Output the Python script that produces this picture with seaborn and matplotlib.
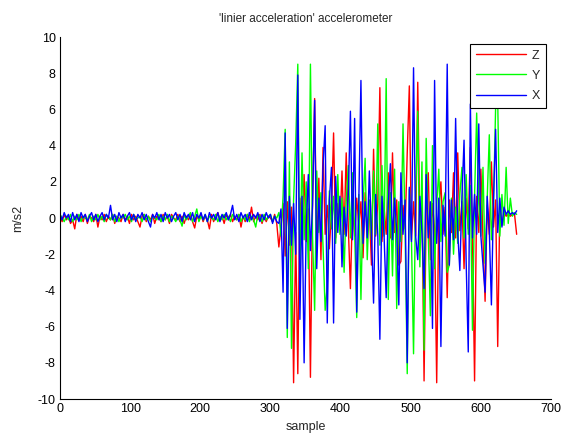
import numpy as np
import pandas as pd
import matplotlib
matplotlib.use("Agg")
import matplotlib.pyplot as plt
import seaborn as sns

# sample index of every reading (one reading kept every 3 samples)
samples = np.arange(0, 652, 3)

# --- Z axis (red) ---
z_rest = [0.1, -0.2, 0.2, -0.1, 0.1, -0.3, -0.1, -0.6, 0.2, -0.1,
          0.1, -0.2, 0.2, -0.3, 0.1, 0.0, -0.2, 0.2, -0.5, 0.1,
          -0.1, 0.2, -0.2, 0.1, -0.1, 0.2, -0.3, 0.1, 0.0, -0.2,
          0.2, -0.1, 0.1, -0.3, 0.2, -0.1, 0.1, -0.2, -0.5, 0.1,
          0.2, -0.2, 0.1, -0.1, 0.2, -0.3, 0.1, 0.0, -0.2, 0.2,
          -0.1, 0.1, -0.3, 0.2, 0.0, -0.1, 0.2, -0.2, 0.1, -0.3,
          0.1, -0.1, 0.2, -0.2, -0.55, 0.1, -0.1, 0.2, -0.2, 0.1,
          -0.1, -0.6, 0.2, -0.2, 0.1, 0.3, -0.1, 0.1, -0.3, 0.2,
          -0.1, 0.2, -0.2, 0.1, -0.1, 0.2, -0.5, 0.1, -0.2, 0.2,
          -0.1, 0.6, -0.2, 0.1, -0.1, 0.2, -0.3, 0.1, -0.2, 0.1,
          0.0, -0.2, 0.2, -0.3]
z_move = [-1.6, -0.5, 0.8, -2.1, 0.9, -1.5, 0.6, -9.1, -0.8, -8.6,
          1.1, -0.6, 2.4, -1.3, 0.5, -8.8, 0.9, 6.6, -1.7, 2.2,
          -2.3, 3.9, -0.9, 0.7, -1.7, 0.4, 4.7, -1.1, 0.8, -0.7,
          2.6, -0.9, 3.6, -0.5, -3.9, 0.6, -1.0, 1.1, -0.4, 0.9,
          -2.2, 1.4, -0.8, 0.5, -2.6, 3.8, -1.0, 0.8, 7.2, -1.3,
          0.6, -0.9, 2.5, -1.1, 3.6, -0.8, 1.0, -2.6, -2.4, 0.7,
          -0.6, 3.6, 7.3, -1.2, 0.9, -1.0, 7.5, -0.7, 1.2, -9.0,
          0.4, 2.5, -2.3, 0.8, -0.6, -9.1, 0.5, 2.0, -0.9, 0.6,
          -4.4, 1.0, -0.8, 2.5, -1.1, 3.6, -0.7, 0.9, -2.8, 1.1,
          -0.6, 3.9, -1.0, -9.0, 1.2, -0.8, 2.7, -1.2, -4.6, 0.7,
          -0.9, 3.1, -0.5, 1.0, -7.1, 0.6, -0.4, 0.3, 0.1, 0.2,
          0.1, 0.2, 0.2, -0.9]

# --- Y axis (green) ---
y_rest = [0.2, 0.0, -0.2, 0.1, -0.1, 0.2, -0.2, 0.1, -0.1, 0.2,
          -0.2, 0.1, 0.0, -0.1, 0.2, -0.2, 0.1, -0.1, 0.2, -0.1,
          0.1, -0.2, 0.2, 0.0, -0.1, 0.2, -0.2, 0.1, -0.2, 0.1,
          0.0, 0.2, -0.1, 0.1, -0.2, 0.2, -0.1, 0.0, 0.1, -0.2,
          0.2, -0.1, 0.1, -0.2, 0.1, 0.0, -0.1, 0.2, -0.2, 0.1,
          -0.1, 0.2, -0.2, 0.1, 0.0, -0.2, 0.1, -0.1, -0.45, 0.2,
          -0.1, 0.1, 0.3, -0.2, 0.1, 0.5, -0.2, 0.1, -0.1, 0.2,
          -0.2, 0.1, 0.0, -0.1, 0.2, -0.2, 0.1, -0.1, 0.2, -0.1,
          0.1, -0.2, 0.2, 0.0, -0.1, 0.2, -0.2, 0.1, -0.1, 0.2,
          -0.2, 0.1, -0.1, -0.5, 0.2, 0.1, -0.2, 0.2, -0.1, 0.1,
          0.2, -0.2, 0.1, 0.0]
y_move = [0.3, -1.0, 1.2, 4.9, -6.6, 3.1, -7.2, 1.0, 4.1, 8.5,
          -3.0, 3.6, -1.2, 2.0, -2.8, 8.5, -1.0, -5.1, 2.6, -0.8,
          1.4, -1.6, -5.1, -3.7, 1.5, -0.6, 1.2, -1.4, 2.4, -0.9,
          1.1, -3.0, 0.9, 2.9, -1.1, 2.5, -0.7, -5.5, 1.3, -4.5,
          0.8, 3.3, -2.3, 1.0, -1.2, 2.6, -0.9, 5.2, -1.5, 2.9,
          -1.0, 7.7, -4.5, 1.4, -3.2, 2.7, -5.0, 0.9, -1.3, 5.2,
          -0.8, -8.6, 1.6, -1.1, -7.5, 1.2, 5.9, -2.7, 3.1, -7.3,
          4.4, -1.0, -5.4, 4.0, -2.8, 0.7, 2.7, -1.3, 0.9, 1.4,
          -3.0, -2.6, 1.1, -2.0, 0.6, -1.4, 1.3, 2.8, -1.1, 2.4,
          -0.9, 1.8, -6.2, 1.2, 5.8, 0.8, -1.0, 2.8, -2.5, 1.1,
          4.6, -1.2, 0.8, 6.1, 6.5, -1.0, 1.3, -0.4, 2.8, -0.3,
          1.1, 0.1, 0.3, 0.2]

# --- X axis (blue) ---
x_rest = [0.2, -0.1, 0.3, 0.0, 0.2, -0.2, 0.3, -0.1, 0.2, -0.2,
          0.3, 0.0, 0.2, -0.2, 0.1, 0.3, -0.1, 0.2, -0.2, 0.1,
          0.3, -0.1, 0.2, 0.0, 0.7, -0.1, 0.2, -0.2, 0.3, 0.0,
          0.2, -0.2, 0.1, 0.3, -0.1, 0.2, -0.2, 0.2, 0.0, 0.3,
          -0.1, 0.2, -0.2, -0.5, 0.2, 0.0, 0.3, -0.1, 0.2, -0.2,
          0.3, 0.0, 0.2, -0.2, 0.1, 0.3, -0.1, 0.2, -0.2, 0.3,
          0.0, 0.2, -0.1, 0.3, -0.2, 0.2, 0.0, 0.3, -0.1, 0.2,
          -0.2, 0.3, 0.0, 0.2, -0.1, 0.3, -0.2, 0.2, 0.0, 0.3,
          -0.1, 0.2, 0.7, -0.1, 0.2, -0.2, 0.3, 0.0, 0.2, -0.2,
          0.3, -0.1, 0.2, 0.0, 0.3, -0.2, 0.2, -0.1, 0.3, 0.0,
          0.2, -0.3, 0.1, -0.2]
x_move = [-0.3, 0.5, -4.1, 4.7, -6.1, 1.2, -1.5, 0.8, -2.0, 7.9,
          -5.6, 1.2, -8.0, -0.5, 2.4, -1.8, 0.7, 6.5, -2.8, 1.1,
          -1.3, 2.9, 5.1, -5.8, 1.0, 2.8, -5.8, 2.3, -0.8, 1.2,
          -2.7, 0.6, -1.0, 1.3, 5.9, -1.2, 5.5, -5.2, 1.0, 7.6,
          -1.4, 0.9, -1.1, 2.6, -0.8, -4.7, 1.3, -0.9, -6.7, 1.2,
          -1.0, -4.4, 0.8, 3.0, -1.2, 1.1, -0.7, -4.8, 2.5, -0.9,
          1.0, -8.0, 1.7, -1.3, 8.3, -1.0, -2.3, 1.2, -0.8, -3.9,
          2.4, -1.1, 0.9, -6.1, 7.6, -1.4, 1.1, -7.1, 0.7, -1.0,
          8.5, -2.6, 1.0, -1.2, 5.5, -0.8, -2.9, 1.2, 4.3, -2.4,
          -7.4, 6.3, -1.1, 1.3, -0.9, 5.2, -1.0, -2.6, -4.1, 1.2,
          -0.7, -4.8, 1.0, 4.9, -0.8, 1.1, -0.5, 0.6, 0.2, 0.4,
          0.2, 0.3, 0.2, 0.4]

series = {"Z": z_rest + z_move, "Y": y_rest + y_move, "X": x_rest + x_move}
colors = {"Z": "#ff0000", "Y": "#00ff00", "X": "#0000ff"}

frames = [pd.DataFrame({"sample": samples, "value": vals, "axis": name})
          for name, vals in series.items()]
df = pd.concat(frames, ignore_index=True)

sns.set_style("white")
plt.rcParams["font.family"] = ["Liberation Sans", "DejaVu Sans"]
plt.rcParams["axes.unicode_minus"] = False

fig = plt.figure(figsize=(5.64, 4.34), dpi=100)
ax = fig.add_axes([0.1064, 0.0806, 0.8706, 0.8341])

sns.lineplot(data=df, x="sample", y="value", hue="axis",
             hue_order=["Z", "Y", "X"], palette=colors,
             estimator=None, sort=False, linewidth=1.0, ax=ax)

ax.set_xlim(0, 700)
ax.set_ylim(-10, 10)
ax.set_xticks(range(0, 701, 100))
ax.set_yticks(range(-10, 11, 2))
ax.tick_params(direction="in", length=4, width=0.8, labelsize=9,
               colors="black", pad=3)
for side in ("top", "right"):
    ax.spines[side].set_visible(False)
for side in ("left", "bottom"):
    ax.spines[side].set_color("black")
    ax.spines[side].set_linewidth(0.8)

ax.set_title("'linier acceleration' accelerometer", fontsize=8.5, pad=11)
ax.set_xlabel("sample", fontsize=9, labelpad=4)
ax.set_ylabel("m/s2", fontsize=9, labelpad=10)

leg = ax.legend(loc="upper right", bbox_to_anchor=(0.9898, 0.9807),
                borderaxespad=0, fontsize=9, frameon=True, fancybox=False,
                edgecolor="black", framealpha=1, handlelength=4.0,
                handletextpad=0.5, labelspacing=0.65, borderpad=0.45)
leg.get_frame().set_linewidth(0.8)
for line in leg.get_lines():
    line.set_linewidth(1.0)

fig.savefig("out.png", dpi=100)
